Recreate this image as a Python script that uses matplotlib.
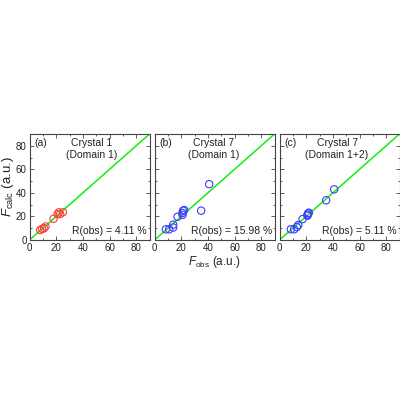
import matplotlib
matplotlib.use('Agg')
import matplotlib.pyplot as plt
from matplotlib.ticker import MultipleLocator

plt.rcParams['font.family'] = ['Liberation Sans', 'DejaVu Sans']
plt.rcParams['mathtext.fontset'] = 'custom'
plt.rcParams['mathtext.it'] = 'Liberation Sans:italic'
plt.rcParams['mathtext.rm'] = 'Liberation Sans'

# panel (a): crystal 1, domain 1
obs_a = [8, 9.5, 11, 12, 18, 21, 22, 23, 25]
calc_a = [8.5, 9.5, 10, 11.5, 18, 22, 23.5, 22, 23.5]

# panel (b): crystal 7, domain 1
obs_b = [8.5, 11, 14, 14, 17.3, 21, 21, 21.5, 22.3, 35, 41]
calc_b = [9.1, 9.1, 10.6, 13, 19.7, 21.4, 23, 24.9, 25.4, 24.9, 47.4]

# panel (c): crystal 7, domain 1+2
obs_c = [8.5, 11, 13, 14, 17.3, 21, 21, 21.5, 22, 35, 41]
calc_c = [9.1, 9.1, 11, 12.6, 17.7, 20.6, 21.5, 22.6, 23.2, 33.7, 43]

labels = ['(a)', '(b)', '(c)']
titles = ['Crystal 1\n(Domain 1)', 'Crystal 7\n(Domain 1)', 'Crystal 7\n(Domain 1+2)']
r_obs = ['R(obs) = 4.11 %', 'R(obs) = 15.98 %', 'R(obs) = 5.11 %']
colors = ['#ff3b3b', '#3b3bff', '#3b3bff']
data = [(obs_a, calc_a), (obs_b, calc_b), (obs_c, calc_c)]
title_x = [0.52, 0.49, 0.48]

fig = plt.figure(figsize=(4, 4), dpi=100)
lefts = [29.5, 154.5, 279.5]
edge = '#444444'
for i in range(3):
    ax = fig.add_axes([lefts[i] / 400, 160 / 400, 120 / 400, 106 / 400])
    ax.plot([0, 90], [0, 90], color='#11ee11', lw=1.1, zorder=1)
    ax.scatter(data[i][0], data[i][1], s=28, facecolors='none',
               edgecolors=colors[i], linewidths=0.8, zorder=2)
    ax.set_xlim(0, 90)
    ax.set_ylim(0, 90)
    ax.xaxis.set_major_locator(MultipleLocator(20))
    ax.xaxis.set_minor_locator(MultipleLocator(10))
    ax.yaxis.set_major_locator(MultipleLocator(20))
    ax.yaxis.set_minor_locator(MultipleLocator(10))
    ax.tick_params(which='both', direction='in', top=True, right=True,
                   colors=edge, labelcolor='#222222', labelsize=7, pad=2)
    ax.tick_params(which='major', length=3, width=0.6)
    ax.tick_params(which='minor', length=1.5, width=0.6)
    for sp in ax.spines.values():
        sp.set_color(edge)
        sp.set_linewidth(0.8)
    if i > 0:
        ax.set_yticklabels([])
    ax.text(0.04, 0.96, labels[i], transform=ax.transAxes, fontsize=7.5,
            ha='left', va='top', color='#222222')
    ax.text(title_x[i], 0.96, titles[i], transform=ax.transAxes, fontsize=7.5,
            ha='center', va='top', color='#222222', linespacing=1.2)
    ax.text(0.98, 0.04, r_obs[i], transform=ax.transAxes, fontsize=7.5,
            ha='right', va='bottom', color='#222222')
    if i == 0:
        ax.set_ylabel(r'$F_{\rm calc}$ (a.u.)', fontsize=9.5, labelpad=0,
                      color='#222222')
    if i == 1:
        ax.set_xlabel(r'$F_{\rm obs}$ (a.u.)', fontsize=8.5, labelpad=1,
                      color='#222222')

fig.savefig('out.png', dpi=100)
